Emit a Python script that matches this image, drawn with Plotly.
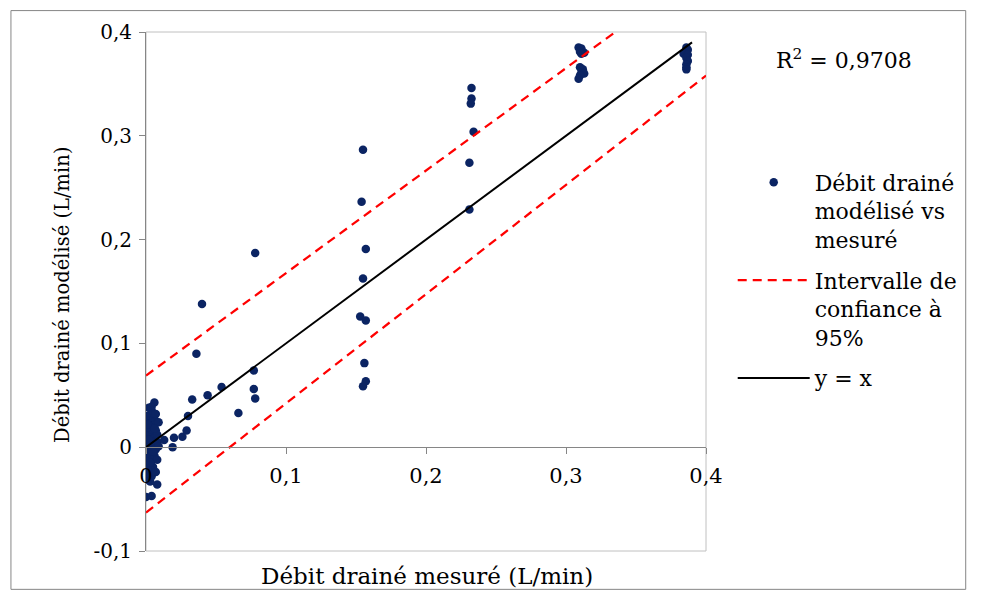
import plotly.graph_objects as go

# ---------------- data ----------------
measured = [
    0.000, 0.004, 0.008, 0.003, 0.001, 0.004, 0.000, 0.002, 0.005, 0.001,
    0.004, 0.002, 0.006, 0.000, 0.003, 0.007, 0.001, 0.004, 0.000, 0.006,
    0.002, 0.008, 0.004, 0.001, 0.006, 0.003, 0.000, 0.005, 0.002, 0.007,
    0.004, 0.001, 0.006, 0.003, 0.005, 0.002, 0.006, 0.004, 0.003, 0.005,
    0.004, 0.006,
    0.008, 0.009, 0.007, 0.008, 0.007, 0.009, 0.002, 0.000, 0.001, 0.004,
    0.006, 0.003, 0.001, 0.005, 0.002,
    0.013, 0.019, 0.020, 0.026, 0.029, 0.030, 0.033, 0.044, 0.054, 0.036,
    0.040, 0.066, 0.077, 0.077, 0.078, 0.078,
    0.155, 0.154, 0.157, 0.155, 0.153, 0.157, 0.156, 0.157, 0.155,
    0.2325, 0.2325, 0.232, 0.234, 0.231, 0.231,
    0.309, 0.311, 0.310, 0.313, 0.311, 0.310, 0.312, 0.311, 0.313, 0.310, 0.309,
    0.386, 0.387, 0.386, 0.384, 0.387, 0.386, 0.387, 0.386, 0.386, 0.386,
]
modeled = [
    -0.048, -0.047, -0.036, -0.033, -0.031, -0.028, -0.025, -0.022, -0.019, -0.016,
    -0.013, -0.010, -0.008, -0.006, -0.004, -0.002, -0.001, 0.001, 0.002, 0.003,
    0.004, 0.005, 0.006, 0.008, 0.009, 0.010, 0.012, 0.013, 0.015, 0.016,
    0.017, 0.019, 0.020, 0.022, 0.024, 0.025, 0.027, 0.029, 0.031, 0.033,
    0.035, 0.043,
    0.012, 0.024, 0.032, -0.012, -0.024, 0.001, 0.038, 0.030, -0.020, 0.039,
    0.018, -0.015, 0.022, -0.004, 0.007,
    0.007, 0.000, 0.009, 0.010, 0.016, 0.030, 0.046, 0.050, 0.058, 0.090,
    0.138, 0.033, 0.074, 0.056, 0.047, 0.187,
    0.2865, 0.2365, 0.191, 0.1625, 0.126, 0.122, 0.081, 0.0635, 0.0587,
    0.346, 0.336, 0.331, 0.304, 0.274, 0.229,
    0.385, 0.384, 0.381, 0.380, 0.379, 0.366, 0.364, 0.361, 0.360, 0.358, 0.355,
    0.385, 0.383, 0.381, 0.379, 0.378, 0.375, 0.372, 0.369, 0.366, 0.364,
]

ci_x = [0.0, 0.4]
ci_upper = [0.069, 0.464]
ci_lower = [-0.063, 0.358]

ref_x = [0.0, 0.39]
ref_y = [0.0, 0.39]

x_tickvals = [0, 0.1, 0.2, 0.3, 0.4]
x_ticktext = ["0", "0,1", "0,2", "0,3", "0,4"]
y_tickvals = [-0.1, 0, 0.1, 0.2, 0.3, 0.4]
y_ticktext = ["-0,1", "0", "0,1", "0,2", "0,3", "0,4"]

r2_text = "R<sup>2</sup> = 0,9708"
x_title = "Débit drainé mesuré (L/min)"
y_title = "Débit drainé modélisé (L/min)"
name_points = "Débit drainé<br>modélisé vs<br>mesuré"
name_ci = "Intervalle de<br>confiance à<br>95%"
name_ref = "y = x"

# ---------------- layout helpers ----------------
# page body has an 8px margin; figure drawn at screen (8, 8)
OFF = 8
W, H = 966, 582
L, R, T, B = 138, 704, 22, 543


def px(x):
    """screen x pixel -> paper x"""
    return (x - OFF - L) / (R - L)


def py(y):
    """screen y pixel -> paper y"""
    return (B - (y - OFF)) / (B - T)


FONT = "DejaVu Serif"
NAVY = "#0b2463"
RED = "#ff0000"

fig = go.Figure()
fig.add_trace(go.Scatter(
    x=measured, y=modeled, mode="markers", name=name_points, legendgroup="a",
    marker=dict(color=NAVY, size=8.5, line=dict(width=0)),
))
fig.add_trace(go.Scatter(
    x=ci_x, y=ci_upper, mode="lines", name=name_ci, legendgroup="b",
    line=dict(color=RED, width=2.25, dash="9px,6px"),
))
fig.add_trace(go.Scatter(
    x=ci_x, y=ci_lower, mode="lines", name=name_ci, legendgroup="b",
    showlegend=False,
    line=dict(color=RED, width=2.25, dash="9px,6px"),
))
fig.add_trace(go.Scatter(
    x=ref_x, y=ref_y, mode="lines", name=name_ref, legendgroup="c",
    line=dict(color="#000000", width=2),
))

fig.update_layout(
    width=W, height=H,
    margin=dict(l=L, r=W - R, t=T, b=H - B),
    paper_bgcolor="white", plot_bgcolor="white",
    font=dict(family=FONT, size=21, color="black"),
    showlegend=True,
    legend=dict(
        x=px(739), y=py(160), xanchor="left", yanchor="top",
        font=dict(family=FONT, size=22, color="black"),
        bgcolor="rgba(0,0,0,0)", borderwidth=0,
        itemwidth=72, valign="top", tracegroupgap=9,
        traceorder="grouped",
    ),
    xaxis=dict(
        range=[0, 0.4], anchor="free", position=0.2,
        showline=True, linecolor="#868686", linewidth=1,
        ticks="outside", ticklen=6, tickcolor="#868686",
        tickvals=x_tickvals, ticktext=x_ticktext,
        showgrid=False, zeroline=False, ticklabelstandoff=4,
        tickfont=dict(family=FONT, size=21),
    ),
    yaxis=dict(
        range=[-0.1, 0.4],
        showline=True, linecolor="#868686", linewidth=1,
        ticks="outside", ticklen=6, tickcolor="#868686",
        tickvals=y_tickvals, ticktext=y_ticktext,
        showgrid=False, zeroline=False, ticklabelstandoff=3,
        tickfont=dict(family=FONT, size=20),
    ),
    shapes=[
        dict(type="rect", xref="paper", yref="paper", x0=0, x1=1, y0=0, y1=1,
             line=dict(color="#c0c0c0", width=1), layer="below"),
        dict(type="rect", xref="paper", yref="paper",
             x0=px(9.5), x1=px(974.5), y0=py(589.5), y1=py(8.5),
             line=dict(color="#868686", width=1), layer="below"),
    ],
    annotations=[
        dict(text=r2_text, xref="paper", yref="paper", x=px(851), y=py(57),
             xanchor="center", yanchor="middle",
             showarrow=False, font=dict(family=FONT, size=22)),
        dict(text=x_title, xref="paper", yref="paper", x=px(430), y=py(576),
             xanchor="center", yanchor="middle",
             showarrow=False, font=dict(family=FONT, size=23)),
        dict(text=y_title, xref="paper", yref="paper", x=px(62), y=py(294),
             xanchor="center", yanchor="middle",
             showarrow=False, textangle=-90, font=dict(family=FONT, size=19.5)),
    ],
)

fig.write_html("out.html")
